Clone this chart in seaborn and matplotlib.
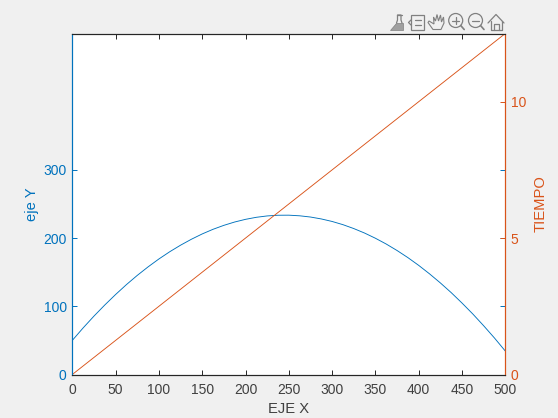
import matplotlib
matplotlib.use("Agg")
import matplotlib.pyplot as plt
import seaborn as sns
from matplotlib.lines import Line2D
from matplotlib.patches import Circle, Polygon, Rectangle

# valores
eje_x = [0, 12.5, 25, 37.5, 50, 62.5, 75, 87.5, 100, 112.5, 125, 137.5, 150, 162.5, 175, 187.5, 200, 212.5, 225, 237.5,
         250, 262.5, 275, 287.5, 300, 312.5, 325, 337.5, 350, 362.5, 375, 387.5, 400, 412.5, 425, 437.5, 450, 462.5,
         475, 487.5, 500]
eje_y = [50, 68.3, 85.6, 101.9, 117.3, 131.8, 145.3, 157.8, 169.4, 180.0, 189.6, 198.3, 206.1, 212.9, 218.7, 223.6,
         227.5, 230.5, 232.5, 233.5, 233.6, 232.7, 230.9, 228.1, 224.4, 219.7, 214.0, 207.4, 199.8, 191.3, 181.8,
         171.4, 160, 147.6, 134.3, 120.1, 104.8, 88.7, 71.5, 53.5, 34.4]
tiempo_x = [0, 500]
tiempo = [0, 12.5]

x_ticks = [0, 50, 100, 150, 200, 250, 300, 350, 400, 450, 500]
y_ticks = [0, 100, 200, 300]
t_ticks = [0, 5, 10]

AZUL = "#0072BD"
NARANJA = "#D95319"
NEGRO = "#262626"
GRIS = "#F0F0F0"
ICONO = "#808080"

sns.set_theme(style="white")
plt.rcParams["font.family"] = ["Liberation Sans", "DejaVu Sans"]

W, H = 558, 418
fig = plt.figure(figsize=(W / 100, H / 100), dpi=100, facecolor=GRIS)
ax = fig.add_axes([72.3 / W, 1 - 374.5 / H, 433 / W, 341 / H])
ax2 = ax.twinx()

sns.lineplot(x=eje_x, y=eje_y, ax=ax, color=AZUL, linewidth=0.65, errorbar=None)
sns.lineplot(x=tiempo_x, y=tiempo, ax=ax2, color=NARANJA, linewidth=0.65, errorbar=None)

ax.set_xlim(0, 500)
ax.set_ylim(0, 500)
ax2.set_ylim(0, 12.5)
ax.set_xticks(x_ticks)
ax.set_yticks(y_ticks)
ax2.set_yticks(t_ticks)

ax.tick_params(axis="x", direction="in", length=3.5, width=0.7, top=True, bottom=True,
               labelsize=10, labelcolor="#404040", color=NEGRO, pad=6)
ax.tick_params(axis="y", direction="in", length=3.5, width=0.7, left=True, right=True,
               labelsize=10, labelcolor=AZUL, color=AZUL, pad=4)
ax2.tick_params(axis="y", direction="in", length=3.5, width=0.7, right=True, left=False,
                labelsize=10, labelcolor=NARANJA, color=NARANJA, pad=4)

ax.set_xlabel("EJE X", fontsize=10.6, color="#404040", labelpad=4)
ax.set_ylabel("eje Y", fontsize=10.6, color=AZUL, labelpad=3)
ax2.set_ylabel("TIEMPO", fontsize=10.6, color=NARANJA, labelpad=5)

for a in (ax, ax2):
    for lado in a.spines:
        a.spines[lado].set_linewidth(0.8)
    a.spines["top"].set_color(NEGRO)
    a.spines["bottom"].set_color(NEGRO)
    a.spines["left"].set_color(AZUL)
    a.spines["right"].set_color(NARANJA)
ax2.patch.set_visible(False)

# barra de herramientas, en pixeles de la figura
barra = fig.add_axes([0, 0, 1, 1], facecolor="none")
barra.set_xlim(0, W)
barra.set_ylim(H, 0)
barra.axis("off")


def raya(xs, ys, lw=0.9):
    barra.add_line(Line2D(xs, ys, color=ICONO, linewidth=lw))


# brocha
barra.add_patch(Polygon([(390, 30), (403, 30), (403, 23), (396, 23)], facecolor="#a0a0a0", edgecolor=ICONO, lw=0.5))
raya([396.5, 397.5, 397.5, 401, 401, 402], [23, 20, 15, 15, 20, 23])
raya([396.5, 402], [14.5, 14.5])
# leyenda
barra.add_patch(Rectangle((411, 14.5), 13, 15, fill=False, edgecolor=ICONO, lw=0.9))
raya([415, 421], [20, 20])
raya([415, 421], [24.5, 24.5])
raya([411, 408.5, 411], [20, 22.5, 25])
# mano
barra.add_patch(Polygon([(433, 29.5), (441, 29.5), (444, 23), (443.5, 17), (441.5, 22), (440.5, 15), (438.5, 21),
                         (437, 14.5), (435.5, 21), (433.5, 17), (434, 24), (429, 21), (428, 22.5)],
                        fill=False, edgecolor=ICONO, lw=0.8))
# lupas
for cx in (455.7, 475.5):
    barra.add_patch(Circle((cx, 20.5), 7, fill=False, edgecolor=ICONO, lw=0.9))
    raya([cx + 5, cx + 8.5], [25.5, 29.5], lw=1.2)
    raya([cx - 3.5, cx + 3.5], [20.5, 20.5])
raya([455.7, 455.7], [17, 24])
# casa
raya([488, 496, 504], [23, 14.5, 23])
raya([490.5, 490.5, 501.5, 501.5], [21, 30, 30, 21])
raya([493.5, 493.5, 498.5, 498.5], [30, 23.5, 23.5, 30])

fig.savefig("out.png", dpi=100, facecolor=GRIS)
